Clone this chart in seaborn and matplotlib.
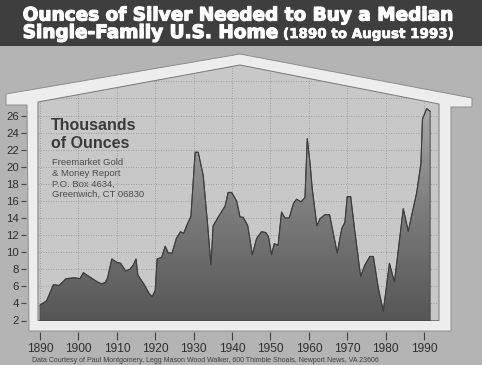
import numpy as np
import matplotlib
matplotlib.use("Agg")
import matplotlib.pyplot as plt
import matplotlib.patheffects as pe
from matplotlib.patches import Polygon, Rectangle
from matplotlib.colors import LinearSegmentedColormap
import seaborn as sns

# ---------------- data ----------------
years = [1890, 1891.7, 1893.5, 1895, 1896.8, 1899, 1900.4, 1901.3, 1902.6, 1905,
         1906, 1907, 1907.6, 1908.7, 1910, 1911, 1912.3, 1913.4, 1914.3, 1915,
         1915.5, 1917, 1918.5, 1919.2, 1920, 1920.5, 1921.7, 1922.6, 1923.4, 1924.4,
         1925.5, 1926.6, 1927.4, 1928.2, 1929.3, 1930.4, 1931.2, 1932.5, 1933.6, 1934.5,
         1935.1, 1936.4, 1938.2, 1939, 1939.9, 1941.2, 1942.1, 1942.9, 1944.1, 1945.3,
         1946.4, 1947.7, 1948.8, 1949.5, 1950.3, 1951, 1952, 1952.9, 1953.8, 1954.9,
         1956, 1956.8, 1958, 1959, 1959.6, 1960.3, 1960.9, 1962.1, 1962.9, 1964.2,
         1965.4, 1967.4, 1968.6, 1969.4, 1970, 1970.9, 1972, 1973.5, 1974.6, 1975.9,
         1976.8, 1978.1, 1979.4, 1981, 1982.3, 1984.6, 1985.9, 1988.1, 1989.2, 1989.6,
         1990.7, 1991.6]
ounces = [3.8, 4.3, 6.2, 6.1, 6.9, 7.0, 6.9, 7.6, 7.2, 6.5,
          6.3, 6.45, 7.0, 9.2, 8.8, 8.7, 7.8, 8.0, 8.5, 9.2,
          7.3, 6.3, 5.1, 4.8, 5.5, 9.2, 9.4, 10.7, 9.9, 9.9,
          11.6, 12.4, 12.2, 13.1, 14.2, 21.7, 21.7, 19.0, 13.5, 8.5,
          13.1, 14.1, 15.4, 17.0, 17.0, 16.0, 14.1, 14.1, 13.1, 9.7,
          11.6, 12.4, 12.3, 11.8, 9.7, 11.0, 10.8, 14.7, 14.0, 14.0,
          15.7, 16.2, 15.9, 16.4, 23.3, 20.5, 17.4, 13.1, 13.9, 14.4,
          14.4, 9.9, 12.8, 13.5, 16.5, 16.5, 12.4, 7.15, 8.5, 9.5,
          9.5, 5.8, 3.1, 8.7, 6.5, 15.1, 12.45, 17.0, 20.4, 25.6,
          26.8, 26.5]
y_ticks = list(range(2, 27, 2))
y_grid = list(range(2, 31, 2))
x_ticks = list(range(1890, 1991, 10))

title_line1 = "Ounces of Silver Needed to Buy a Median"
title_line2a = "Single-Family U.S. Home"
title_line2b = "(1890 to August 1993)"
units_line1 = "Thousands"
units_line2 = "of Ounces"
publisher_lines = ["Freemarket Gold", "& Money Report", "P.O. Box 4634,", "Greenwich, CT 06830"]
source_text = ("Data Courtesy of Paul Montgomery, Legg Mason Wood Walker, "
               "600 Thimble Shoals, Newport News, VA 23606")

# ---------------- style ----------------
sns.set_theme(style="white")
plt.rcParams['font.family'] = ['Liberation Sans', 'DejaVu Sans']

W, H = 482, 365
fig = plt.figure(figsize=(W / 100, H / 100), dpi=100)
fig.patch.set_facecolor('#b4b4b4')

# background / decoration axes in pixel coordinates
bg = fig.add_axes([0, 0, 1, 1])
bg.set_xlim(0, W)
bg.set_ylim(H, 0)
bg.axis('off')

bg.add_patch(Rectangle((0, 0), W, 46, facecolor='#3e3e3e', edgecolor='none', zorder=1))
frame_xy = [(6, 94), (240, 54), (472, 98), (472, 107), (451, 107), (451, 331),
            (29, 331), (27, 105), (6, 105)]
bg.add_patch(Polygon(frame_xy, closed=True, facecolor='#ededed', edgecolor='#8c8c8c',
                     lw=0.7, zorder=2))
panel_xy = [(38, 102), (240, 65), (439, 104), (439, 320.5), (38, 320.5)]
bg.add_patch(Polygon(panel_xy, closed=True, facecolor='#c8c8c8', edgecolor='#777777',
                     lw=0.7, zorder=3))
panel_clip = Polygon(panel_xy, closed=True, transform=bg.transData)

renderer = fig.canvas.get_renderer()


def fit(t, target_w):
    w = t.get_window_extent(renderer).width
    t.set_fontsize(t.get_fontsize() * target_w / w)
    return t


heavy = [pe.withStroke(linewidth=0.9, foreground='white')]

# title
t1 = bg.text(22.7, 20.5, title_line1, color='white', fontweight='bold', fontsize=14,
             family=['DejaVu Sans'], va='baseline', ha='left', zorder=5)
fit(t1, 432)
t1.set_path_effects(heavy)
bg.text(22.7, 38, title_line2a, color='white', fontweight='bold', fontsize=t1.get_fontsize(),
        family=['DejaVu Sans'], va='baseline', ha='left', zorder=5, path_effects=heavy)
t2b = bg.text(283, 38, title_line2b, color='white', fontweight='bold', fontsize=10,
              family=['DejaVu Sans'], va='baseline', ha='left', zorder=5)
fit(t2b, 171)
t2b.set_path_effects([pe.withStroke(linewidth=0.5, foreground='white')])

# ---------------- data axes ----------------
px_per_year = 3.84
px_per_unit = 8.54
left_px, right_px, bottom_px, top_px = 38, 439, 320.5, 65
ax = fig.add_axes([left_px / W, (H - bottom_px) / H, (right_px - left_px) / W,
                   (bottom_px - top_px) / H])
ax.patch.set_alpha(0)
x0 = 1890 - (40 - left_px) / px_per_year
x1 = x0 + (right_px - left_px) / px_per_year
y1 = 2 + (bottom_px - top_px) / px_per_unit

# grid
for yv in y_grid:
    ln = ax.axhline(yv, color='#8e8e8e', lw=0.6, ls=(0, (1, 2)), zorder=1)
    ln.set_clip_path(panel_clip)
for xv in x_ticks:
    ln = ax.axvline(xv, color='#8e8e8e', lw=0.6, ls=(0, (1, 2)), zorder=1)
    ln.set_clip_path(panel_clip)

# area with vertical gradient
area = ax.fill_between(years, ounces, 2, facecolor='none', edgecolor='#4a4a4a',
                       lw=0.7, zorder=4)
grad = np.linspace(0, 1, 256).reshape(-1, 1)
cmap = LinearSegmentedColormap.from_list('silver', ['#565656', '#7c7c7c', '#a9a9a9'])
im = ax.imshow(grad, extent=[x0, x1, 2, 27.5], origin='lower', cmap=cmap,
               aspect='auto', zorder=2, interpolation='bilinear')
im.set_clip_path(area.get_paths()[0], ax.transData)
sns.lineplot(x=years, y=ounces, ax=ax, color='#3c3c3c', lw=0.8, estimator=None,
             sort=False, zorder=5)

ax.set_xlim(x0, x1)
ax.set_ylim(2, y1)
ax.set_xticks(x_ticks)
ax.set_yticks(y_ticks)
ax.set_xticklabels([str(v) for v in x_ticks])
ax.set_yticklabels([str(v) for v in y_ticks])
ax.spines['bottom'].set_position(('outward', 11.5 * 0.72))
ax.spines['left'].set_position(('outward', 12 * 0.72))
for s in ax.spines.values():
    s.set_visible(False)
ax.tick_params(axis='x', bottom=True, direction='out', length=8 * 0.72, width=0.8,
               color='#444444', labelsize=8.6, labelcolor='#2e2e2e', pad=1.8)
ax.tick_params(axis='y', left=True, direction='out', length=5 * 0.72, width=0.8,
               color='#444444', labelsize=8.2, labelcolor='#2e2e2e', pad=1.5)
ax.set_xlabel('')
ax.set_ylabel('')

# ---------------- annotations ----------------
u1 = bg.text(51, 130, units_line1, color='#3a3a3a', fontweight='bold', fontsize=11,
             va='baseline', ha='left', zorder=6)
fit(u1, 86)
bg.text(51, 147.5, units_line2, color='#3a3a3a', fontweight='bold', fontsize=u1.get_fontsize(),
        va='baseline', ha='left', zorder=6)

p_last = bg.text(51.5, 165 + 3 * 10.75, publisher_lines[3], color='#4a4a4a', fontsize=7,
                 va='baseline', ha='left', zorder=6)
fit(p_last, 92)
for i, line in enumerate(publisher_lines[:3]):
    bg.text(51.5, 165 + i * 10.75, line, color='#4a4a4a', fontsize=p_last.get_fontsize(),
            va='baseline', ha='left', zorder=6)

src = bg.text(32.3, 362.5, source_text, color='#404040', fontsize=5.5, va='baseline',
              ha='left', zorder=6)
fit(src, 342)

fig.savefig('out.png', dpi=100, facecolor=fig.get_facecolor())
